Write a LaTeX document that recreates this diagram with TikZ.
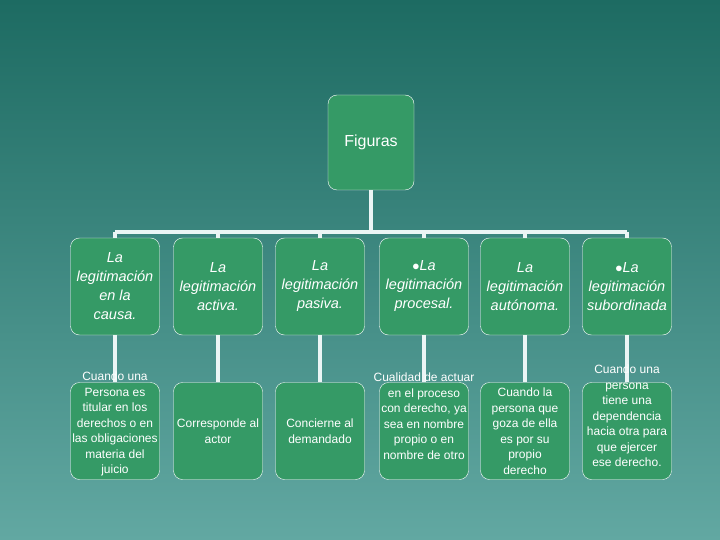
\documentclass[tikz,border=0pt]{standalone}
\usepackage{fontspec}
\setmainfont{Liberation Sans}
\usetikzlibrary{positioning}
\definecolor{bgtop}{HTML}{1D6B62}
\definecolor{bgbot}{HTML}{62A8A2}
\definecolor{boxg}{HTML}{359A66}
\tikzset{
  box/.style={draw=white, fill=boxg, rounded corners=9pt, minimum width=89pt, minimum height=97pt, text=white, align=center, inner sep=0pt},
  head/.style={box, font=\fontsize{14.5}{19}\selectfont\itshape},
  leaf/.style={box, font=\fontsize{12}{15.5}\selectfont},
  spill/.style={leaf, draw=none, fill=none, minimum height=0pt, minimum width=0pt},
  link/.style={draw=white!92!teal, line width=3.5pt}
}
\begin{document}
\begin{tikzpicture}[x=1pt,y=-1pt]
\shade[top color=bgtop, bottom color=bgbot] (0,0) rectangle (720,540);
\useasboundingbox (0,0) rectangle (720,540);

\node[box, minimum width=86pt, minimum height=95pt, font=\fontsize{16}{19}\selectfont] (fig) at (371,142.5) {Figuras};

\node[head] (h1) at (115,286.5) {La\\legitimación\\en la\\causa.};
\node[head] (h2) at (218,286.5) {La\\legitimación\\activa.};
\node[head] (h3) at (320,286.5) {La\\legitimación\\pasiva.};
\node[head] (h4) at (424,286.5) {$\bullet$La\\legitimación\\procesal.};
\node[head] (h5) at (525,286.5) {La\\legitimación\\autónoma.};
\node[head] (h6) at (627,286.5) {$\bullet$La\\legitimación\\subordinada};

\node[leaf] (l1) at (115,431) {};
\node[leaf] (l2) at (218,431) {Corresponde al\\actor};
\node[leaf] (l3) at (320,431) {Concierne al\\demandado};
\node[leaf] (l4) at (424,431) {};
\node[leaf] (l5) at (525,431) {Cuando la\\persona que\\goza de ella\\es por su\\propio\\derecho};
\node[leaf] (l6) at (627,431) {};

\coordinate (bus) at (371,232);
\draw[link] (fig.south) -- (bus);
\draw[link] (h1.north |- bus) -- (h6.north |- bus);
\foreach \i in {1,...,6} {
\draw[link] (h\i.north |- bus) -- (h\i.north);
\draw[link] (h\i.south) -- (l\i.north);
}

% texts that spill over the top of their boxes
\node[spill] (t1) at (115,424) {Cuando una\\Persona es\\titular en los\\derechos o en\\las obligaciones\\materia del\\juicio};
\node[spill] (t4) at (424,416) {Cualidad de actuar\\en el proceso\\con derecho, ya\\sea en nombre\\propio o en\\nombre de otro};
\node[spill] (t6) at (627,416) {Cuando una\\persona\\tiene una\\dependencia\\hacia otra para\\que ejercer\\ese derecho.};
\end{tikzpicture}
\end{document}
